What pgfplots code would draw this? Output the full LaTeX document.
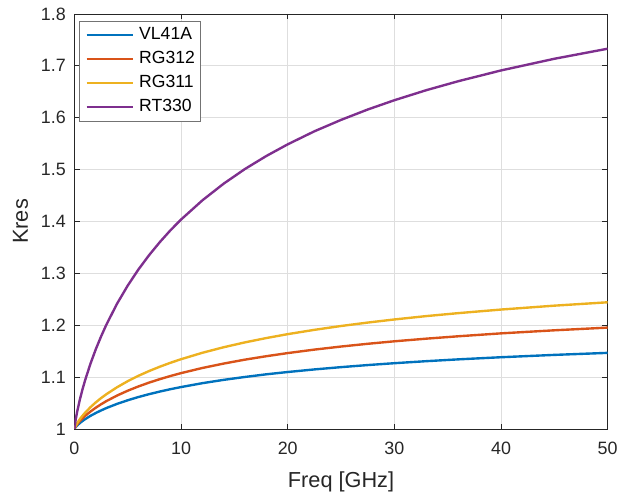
\documentclass[border=0pt]{standalone}
\usepackage{pgfplots}
\pgfplotsset{compat=1.18}
\usepackage{pgfplotstable}
\usepackage{fontspec}
\setmainfont{Liberation Sans}
\definecolor{mblue}{rgb}{0,0.447,0.741}
\definecolor{mred}{rgb}{0.85,0.325,0.098}
\definecolor{myellow}{rgb}{0.929,0.694,0.125}
\definecolor{mpurple}{rgb}{0.494,0.184,0.556}
\definecolor{axgray}{rgb}{0.15,0.15,0.15}

\pgfplotstableread{
f     vl      rgA     rgB     rt
0     1.0000  1.0000  1.0000  1.0000
0.1   1.0032  1.0043  1.0054  1.0161
0.25  1.0066  1.0088  1.0110  1.0330
0.5   1.0112  1.0150  1.0187  1.0561
0.75  1.0152  1.0203  1.0253  1.0761
1     1.0188  1.0251  1.0313  1.0940
1.5   1.0252  1.0335  1.0419  1.1257
2     1.0307  1.0409  1.0512  1.1536
2.5   1.0357  1.0476  1.0595  1.1785
3     1.0403  1.0537  1.0670  1.2013
4     1.0483  1.0644  1.0804  1.2416
5     1.0553  1.0737  1.0921  1.2765
6     1.0615  1.0819  1.1024  1.3074
7     1.0670  1.0893  1.1116  1.3350
8     1.0720  1.0959  1.1199  1.3600
9     1.0766  1.1020  1.1275  1.3829
10    1.0807  1.1076  1.1344  1.4037
12    1.0882  1.1175  1.1468  1.4407
14    1.0946  1.1260  1.1575  1.4729
16    1.1002  1.1336  1.1669  1.5012
18    1.1053  1.1402  1.1752  1.5262
20    1.1097  1.1462  1.1827  1.5486
22.5  1.1147  1.1529  1.1910  1.5737
25    1.1191  1.1588  1.1984  1.5957
27.5  1.1231  1.1641  1.2050  1.6157
30    1.1267  1.1689  1.2110  1.6336
33    1.1306  1.1740  1.2175  1.6530
36    1.1341  1.1786  1.2232  1.6703
40    1.1382  1.1842  1.2301  1.6910
45    1.1427  1.1901  1.2376  1.7135
50    1.1466  1.1953  1.2441  1.7329
}\data

\begin{document}
\begin{tikzpicture}
\begin{axis}[
  name=ax,
  scale only axis,
  width=402.75pt, height=313.5pt,
  xmin=0, xmax=50, ymin=1, ymax=1.8,
  xtick={0,10,20,30,40,50},
  ytick={1,1.1,1.2,1.3,1.4,1.5,1.6,1.7,1.8},
  yticklabels={1,1.1,1.2,1.3,1.4,1.5,1.6,1.7,1.8},
  /pgf/number format/assume math mode=true,
  grid=major,
  major grid style={color=black!13, line width=0.5pt},
  axis line style={color=axgray, line width=0.6pt},
  tick style={color=axgray, line width=0.6pt},
  tick align=inside,
  major tick length=4pt,
  ticklabel style={font=\fontsize{13.5}{16}\selectfont, text=axgray},
  xticklabel style={yshift=-6pt},
  yticklabel style={xshift=-3pt},
  every axis x label/.style={at={(axis description cs:0.5,-0.1404)}, anchor=base, font=\fontsize{16.4}{19}\selectfont, text=axgray},
  every axis y label/.style={at={(axis description cs:-0.0875,0.5)}, anchor=base, rotate=90, font=\fontsize{16.4}{19}\selectfont, text=axgray},
  xlabel={Freq [GHz]},
  ylabel={Kres},
  legend cell align=left,
  legend image code/.code={\draw[#1] (0pt,0pt) -- (35pt,0pt);},
  legend style={
    at={(axis description cs:0,1)}, anchor=north west,
    xshift=3.75pt, yshift=-5pt,
    draw=black!55, line width=0.6pt, fill=white,
    font=\fontsize{13.3}{16}\selectfont, text=black,
    inner xsep=4.3pt, inner ysep=4pt,
    nodes={inner sep=0pt, text height=10pt, text depth=3pt},
    row sep=5.2pt, column sep=3.75pt,
  },
]
\addplot[color=mblue, line width=1.8pt] table[x=f, y=vl] {\data};
\addlegendentry{VL41A}
\addplot[color=mred, line width=1.8pt] table[x=f, y=rgA] {\data};
\addlegendentry{RG312}
\addplot[color=myellow, line width=1.8pt] table[x=f, y=rgB] {\data};
\addlegendentry{RG311}
\addplot[color=mpurple, line width=1.8pt] table[x=f, y=rt] {\data};
\addlegendentry{RT330}
\end{axis}
\path ([xshift=-56.25pt,yshift=-48.75pt]ax.south west) rectangle ([xshift=7.5pt,yshift=10.5pt]ax.north east);
\end{tikzpicture}
\end{document}
